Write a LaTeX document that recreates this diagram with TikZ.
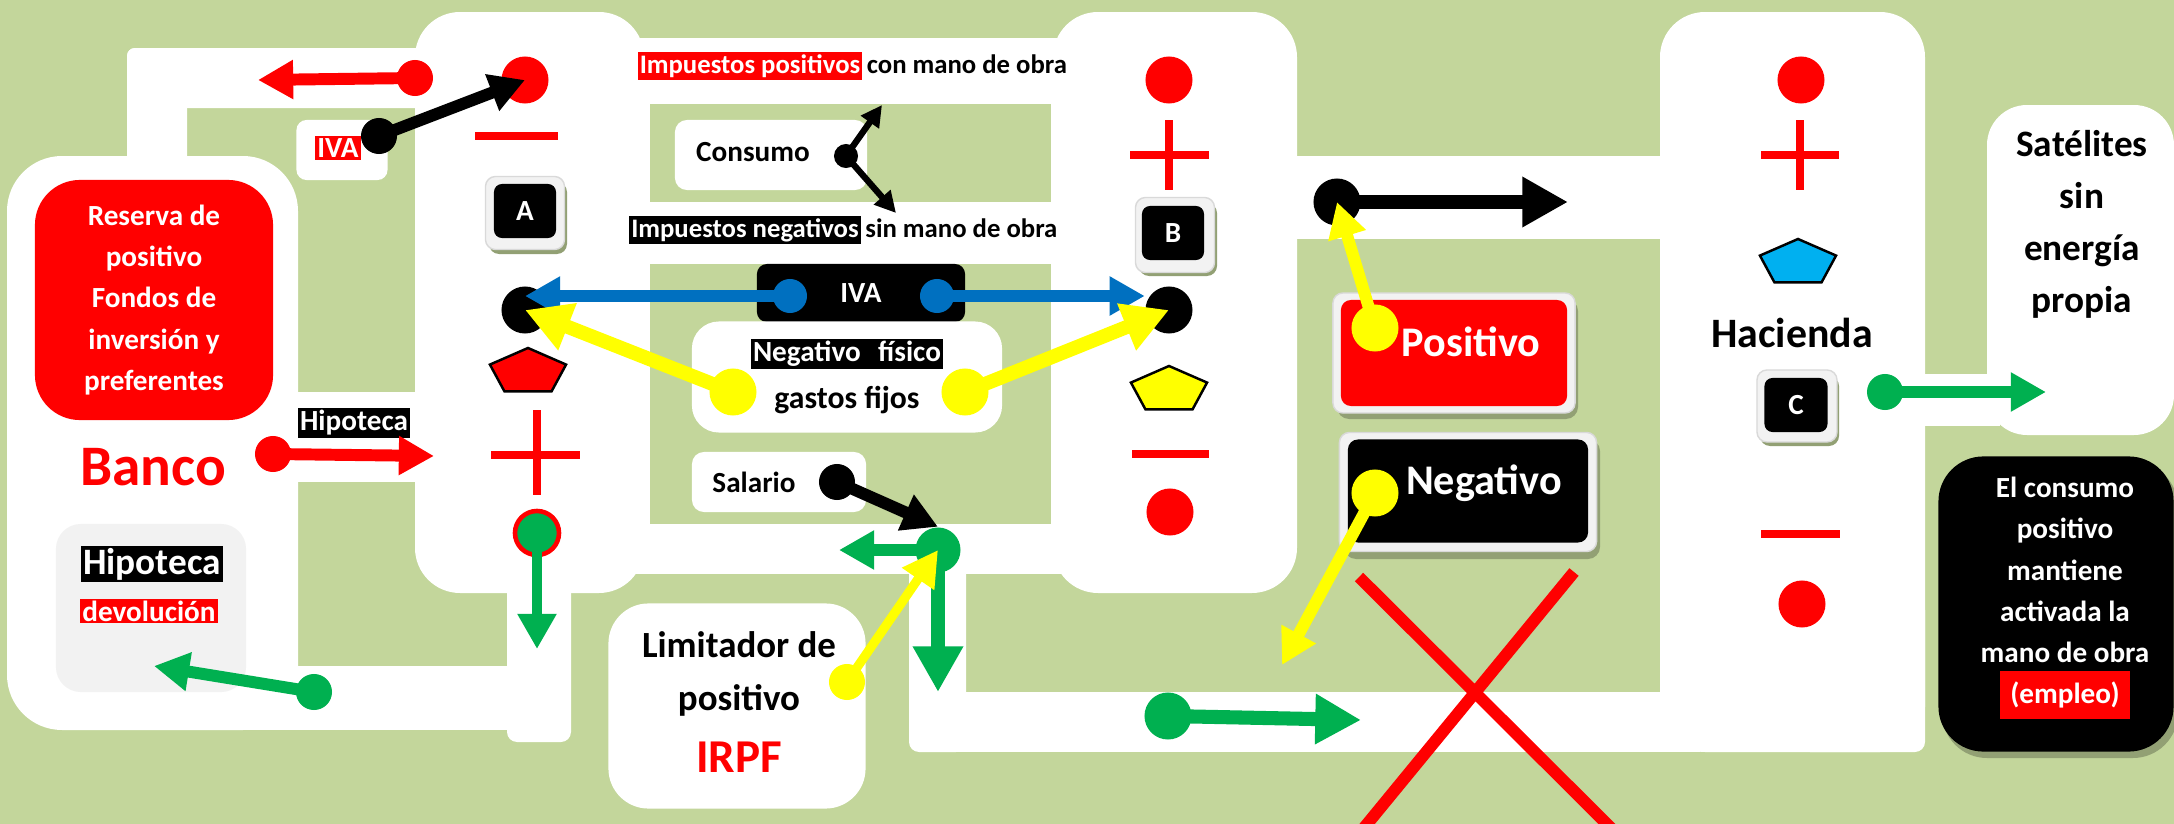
\documentclass[tikz,border=0pt]{standalone}
\usepackage{fontspec}
\setmainfont{Carlito}
\usetikzlibrary{arrows.meta,positioning,shapes.geometric}
\definecolor{fondo}{HTML}{C3D69B}
\definecolor{rojo}{HTML}{FF0000}
\definecolor{verde}{HTML}{00B050}
\definecolor{azul}{HTML}{0070C0}
\definecolor{celeste}{HTML}{00B0F0}
\definecolor{amarillo}{HTML}{FFFF00}
\definecolor{gris}{HTML}{F2F2F2}

\begin{document}
\begin{tikzpicture}[x=0.01cm, y=-0.01cm,
  txt/.style={font=\bfseries\fontsize{8.3}{11.7}\selectfont, inner sep=0.6pt},
  chica/.style={font=\bfseries\fontsize{7.6}{9}\selectfont},
  rotulo/.style={txt, fill=#1, text=white},
  bloque/.style={fill=white, rounded corners=0.45cm},
  punto/.style={circle, fill=#1, inner sep=0pt, minimum size=0.36cm},
  bola/.style={circle, fill=#1, inner sep=0pt, minimum size=0.47cm},
  flecha/.style={line width=3.4pt, -{Triangle[length=10pt,width=10.5pt]}},
  flechota/.style={line width=4pt, -{Triangle[length=13pt,width=13.5pt]}},
  flechita/.style={line width=1.8pt, -{Triangle[length=6pt,width=6pt]}},
  marco/.style={fill=gris, draw=black!15, rounded corners=0.1cm},
  tecla/.style={txt, fill=black, text=white, rounded corners=0.08cm, minimum width=0.62cm, minimum height=0.54cm},
  sombra/.style={fill=black!25!fondo},
  signo/.style={rojo, line width=2.3pt},
  penta/.style={regular polygon, regular polygon sides=5, draw=black, line width=0.7pt, fill=#1, minimum size=0.8cm, yscale=0.6, inner sep=0pt}]

\fill[fondo] (0,0) rectangle (2174,824);
\useasboundingbox (0,0) rectangle (2174,824);

\fill[white, rounded corners=0.08cm] (127,48) rectangle (187,200);
\fill[white, rounded corners=0.08cm] (127,48) rectangle (440,108);
\fill[bloque, rounded corners=0.55cm] (7,156) rectangle (298,730);
\fill[white] (280,392) rectangle (440,482);
\fill[white] (100,666) rectangle (520,730);
\fill[white, rounded corners=0.1cm] (507,560) rectangle (571,742);
\fill[white] (630,38) rectangle (1070,574);
\fill[fondo] (650,104) rectangle (1051,202);
\fill[fondo] (650,264) rectangle (1051,524);
\fill[bloque] (415,12) rectangle (644,593);
\fill[bloque] (1053,12) rectangle (1297,593);
\fill[white] (1285,156) rectangle (1672,239);
\fill[bloque] (1660,12) rectangle (1925,752);
\fill[white, rounded corners=0.1cm] (1800,600) rectangle (1925,752);
\fill[white, rounded corners=0.1cm] (909,540) rectangle (966,752);
\fill[white] (930,692) rectangle (1700,752);
\fill[white] (1915,374) rectangle (2000,426);
\fill[bloque, rounded corners=0.4cm] (1987,105) rectangle (2174,435);

\node[fill=rojo, rounded corners=0.45cm, minimum width=2.38cm, minimum height=2.4cm, txt, text=white, align=center] (reserva) at (154,300) {Reserva de\\positivo\\Fondos de\\inversión y\\preferentes};
\node[txt, text=rojo, font=\bfseries\fontsize{16.3}{19}\selectfont] (banco) at (153,467) {Banco};
\node[fill=gris, rounded corners=0.25cm, minimum width=1.9cm, minimum height=1.68cm] (devol) at (151,608) {};
\node[rotulo=black, font=\bfseries\fontsize{10.6}{12}\selectfont] (hip2) at (152,564) {Hipoteca};
\node[rotulo=rojo] (dev) at (149,611) {devolución};
\node[fill=white, rounded corners=0.1cm, minimum width=0.91cm, minimum height=0.6cm] (cajaiva) at (342,150) {};
\node[rotulo=rojo] (iva1) at (338,148) {IVA};
\node[rotulo=black] (hip1) at (354,423) {Hipoteca};

\node[rotulo=rojo, chica] (ipos) at (750,66) {Impuestos positivos};
\node[txt, chica, base right=0.01cm of ipos] (ipos2) {con mano de obra};
\node[fill=white, rounded corners=0.12cm, minimum width=1.92cm, minimum height=0.7cm] (consumo) at (771,155) {};
\node[txt] (cons) at (753,152) {Consumo};
\node[rotulo=black, chica] (ineg) at (745,230) {Impuestos negativos};
\node[txt, chica, base right=0.01cm of ineg] (ineg2) {sin mano de obra};
\node[fill=black, rounded corners=0.1cm, minimum width=2.08cm, minimum height=0.58cm, txt, text=white] (iva2) at (861,293) {IVA};
\node[fill=white, rounded corners=0.27cm, minimum width=3.1cm, minimum height=1.11cm] (fisico) at (847,377) {};
\node[rotulo=black] (negf) at (847,354) {Negativo\hspace{0.6em}físico};
\node[txt, font=\bfseries\fontsize{9}{11}\selectfont] (gastos) at (847,400) {gastos fijos};
\node[fill=white, rounded corners=0.12cm, minimum width=1.74cm, minimum height=0.6cm] (salario) at (779,482) {};
\node[txt] (sal) at (754,482) {Salario};
\node[fill=white, rounded corners=0.4cm, minimum width=2.57cm, minimum height=2.05cm] (limit) at (737,706) {};
\node[txt, font=\bfseries\fontsize{10.5}{15}\selectfont, align=center] (limtxt) at (739,674) {Limitador de\\positivo};
\node[txt, text=rojo, font=\bfseries\fontsize{13.4}{15}\selectfont] (irpf) at (739,757) {IRPF};

\fill[sombra, rounded corners=0.1cm] (489,182) rectangle (567,254);
\node[marco, minimum width=0.79cm, minimum height=0.73cm] (mA) at (525,213) {};
\node[tecla] (kA) at (525,211) {A};
\fill[sombra, rounded corners=0.1cm] (1139,203) rectangle (1217,276);
\node[marco, minimum width=0.79cm, minimum height=0.75cm] (mB) at (1175,235) {};
\node[tecla] (kB) at (1173,233) {B};
\fill[sombra, rounded corners=0.1cm] (1760,376) rectangle (1839,446);
\node[marco, minimum width=0.8cm, minimum height=0.72cm] (mC) at (1797,406) {};
\node[tecla, minimum width=0.63cm] (kC) at (1796,405) {C};

\fill[sombra, rounded corners=0.12cm] (1337,299) rectangle (1578,419);
\node[marco, minimum width=2.42cm, minimum height=1.2cm] (posF) at (1454,353) {};
\node[fill=rojo, rounded corners=0.1cm, minimum width=2.26cm, minimum height=1.06cm] (pos) at (1454,353) {};
\node[txt, text=white, font=\bfseries\fontsize{12}{14}\selectfont] (posT) at (1471,342) {Positivo};
\fill[sombra, rounded corners=0.12cm] (1344,439) rectangle (1600,559);
\node[marco, minimum width=2.57cm, minimum height=1.19cm] (negF) at (1468,492) {};
\node[fill=black, rounded corners=0.1cm, minimum width=2.4cm, minimum height=1.03cm] (neg) at (1468,491) {};
\node[txt, text=white, font=\bfseries\fontsize{12}{14}\selectfont] (negT) at (1484,483) {Negativo};

\node[txt, font=\bfseries\fontsize{11.9}{14}\selectfont] (hacienda) at (1792,333) {Hacienda};
\node[txt, font=\bfseries\fontsize{10.6}{14.8}\selectfont, align=center] (satel) at (2082,224) {Satélites\\sin\\energía\\propia};
\fill[sombra, rounded corners=0.45cm] (1942,462) rectangle (2178,758);
\node[fill=black, rounded corners=0.45cm, minimum width=2.35cm, minimum height=2.95cm] (cajaE) at (2056,604) {};
\node[txt, text=white, align=center] (empleo) at (2065,598) {El consumo\\positivo\\mantiene\\activada la\\mano de obra\\\colorbox{rojo}{(empleo)}};

\draw[signo] (475,136) -- (558,136);
\draw[signo] (491,455) -- (580,455) (537,410) -- (537,495);
\draw[signo] (1130,155) -- (1209,155) (1169,120) -- (1169,190);
\draw[signo] (1132,454) -- (1209,454);
\draw[signo] (1761,155) -- (1839,155) (1800,120) -- (1800,190);
\draw[signo] (1761,534) -- (1840,534);
\draw[rojo, line width=3.4pt] (1359,577) -- (1623,840) (1574,572) -- (1354,840);

\node[bola=rojo] (rA) at (525,80) {};
\node[punto=rojo] (rI) at (415,78) {};
\node[punto=black] (nI) at (379,136) {};
\node[bola=black] (nA) at (525,310) {};
\node[penta=rojo] (pA) at (528,372) {};
\node[punto=rojo] (rH) at (273,454) {};
\node[bola=verde, draw=rojo, line width=1.3pt, minimum size=0.44cm] (vA) at (537,533) {};
\node[punto=verde] (vD) at (314,692) {};
\node[punto=black, minimum size=0.24cm] (nC) at (846,156) {};
\node[punto=azul, minimum size=0.34cm] (az1) at (790,296) {};
\node[punto=azul, minimum size=0.34cm] (az2) at (937,296) {};
\node[bola=amarillo] (am1) at (733,392) {};
\node[bola=amarillo] (am2) at (965,392) {};
\node[punto=black] (nS) at (837,482) {};
\node[bola=verde, minimum size=0.45cm] (vJ) at (938,550) {};
\node[punto=amarillo] (amL) at (847,682) {};
\node[bola=rojo] (rB1) at (1169,80) {};
\node[bola=black] (nB) at (1169,310) {};
\node[penta=amarillo] (pB) at (1169,390) {};
\node[bola=rojo] (rB2) at (1170,512) {};
\node[bola=black] (nR) at (1337,202) {};
\node[bola=amarillo] (amP) at (1375,328) {};
\node[bola=amarillo] (amN) at (1375,493) {};
\node[bola=verde] (vB) at (1168,716) {};
\node[bola=rojo] (rC1) at (1801,80) {};
\node[penta=celeste] (pC) at (1798,263) {};
\node[bola=rojo] (rC2) at (1802,604) {};
\node[punto=verde] (vC) at (1885,392) {};

\coordinate (fRojo) at (258,80);
\coordinate (fHip) at (434,456);
\coordinate (fVA) at (537,649);
\coordinate (fDev) at (154,666);
\coordinate (fCup) at (882,105);
\coordinate (fCdn) at (896,213);
\coordinate (fJl) at (839,550);
\coordinate (fJd) at (938,692);
\coordinate (fR) at (1568,202);
\coordinate (fN) at (1282,665);
\coordinate (fB) at (1361,720);
\coordinate (fS) at (2046,392);

\draw[flecha, rojo] (rI.center) -- (fRojo);
\draw[flecha, black] (nI.center) -- (rA.center);
\draw[flecha, rojo] (rH.center) -- (fHip);
\draw[flecha, verde, line width=2.8pt] (vA.center) -- (fVA);
\draw[flecha, verde] (vD.center) -- (fDev);
\draw[flechita] (nC.center) -- (fCup);
\draw[flechita] (nC.center) -- (fCdn);
\draw[flecha, azul] (az1.center) -- (az1 -| nA);
\draw[flecha, azul] (az2.center) -- (az2 -| nB.west);
\draw[flechota, amarillo] (am1.center) -- (nA.center);
\draw[flechota, amarillo] (am2.center) -- (nB.center);
\draw[flecha, black] (nS.center) -- (vJ.north);
\draw[flecha, verde] (vJ.center) -- (fJl);
\draw[flechota, verde] (vJ.center) -- (fJd);
\draw[flecha, amarillo, line width=2.6pt] (amL.center) -- (vJ.center);
\draw[flechota, black] (nR.center) -- (fR);
\draw[flecha, amarillo] (amP.center) -- (nR.center);
\draw[flecha, amarillo] (amN.center) -- (fN);
\draw[flechota, verde] (vB.center) -- (fB);
\draw[flecha, verde] (vC.center) -- (fS);
\end{tikzpicture}
\end{document}
